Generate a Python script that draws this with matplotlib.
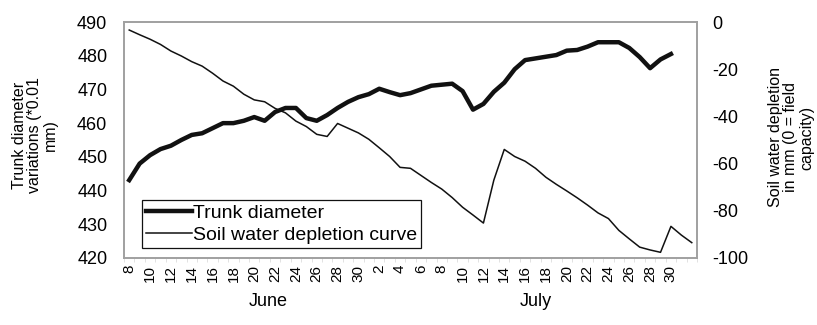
import numpy as np
import matplotlib
matplotlib.use("Agg")
import matplotlib.pyplot as plt

plt.rcParams['font.family'] = ['Liberation Sans', 'DejaVu Sans']
plt.rcParams['axes.unicode_minus'] = False

# categories: one per day, June 8 .. August 1
day_numbers = list(range(8, 31)) + list(range(1, 32)) + [1]
month_names = ['June', 'July']

# trunk diameter variations (*0.01 mm), June 8 .. July 30
trunk = [443.1, 448.0, 450.5, 452.3, 453.3, 455.0, 456.5, 457.0, 458.5, 460.0,
         460.0, 460.7, 461.8, 460.7, 463.3, 464.5, 464.5, 461.5, 460.7, 462.4,
         464.5, 466.3, 467.7, 468.6, 470.2, 469.2, 468.3, 468.9, 470.0, 471.1,
         471.4, 471.7, 469.5, 464.0, 465.7, 469.3, 472.0, 476.0, 478.7, 479.2,
         479.7, 480.2, 481.5, 481.7, 482.7, 484.0, 484.0, 484.0, 482.3, 479.6,
         476.3, 478.9, 480.5]

# soil water depletion in mm, June 8 .. August 1
soil = [-3.4, -5.4, -7.3, -9.5, -12.3, -14.4, -16.8, -18.7, -21.7, -25.0,
        -27.2, -30.6, -33.0, -33.8, -36.6, -38.5, -42.0, -44.3, -47.6, -48.5,
        -43.0, -45.0, -47.0, -49.7, -53.3, -57.0, -61.6, -62.0, -65.0, -68.0,
        -70.8, -74.4, -78.5, -81.8, -85.2, -67.0, -54.0, -57.0, -59.0, -62.0,
        -65.8, -68.8, -71.6, -74.5, -77.6, -80.9, -83.3, -88.3, -91.9, -95.4,
        -96.6, -97.6, -86.6, -90.3, -93.5]

left_ticks = [420, 430, 440, 450, 460, 470, 480, 490]
right_ticks = [-100, -80, -60, -40, -20, 0]

fig = plt.figure(figsize=(8.17, 3.25), dpi=100)
ax = fig.add_axes([0.1518, 0.2062, 0.7013, 0.7261])
ax2 = ax.twinx()

x_trunk = np.arange(len(trunk))
x_soil = np.arange(len(soil))

l1, = ax.plot(x_trunk, trunk, color='#111111', lw=3.2, solid_joinstyle='round',
              label='Trunk diameter', zorder=3)
l2, = ax2.plot(x_soil, soil, color='#111111', lw=1.1, label='Soil water depletion curve')

ax.set_xlim(-0.5, len(day_numbers) - 0.5)
ax.set_ylim(420, 490)
ax2.set_ylim(-100, 0)
ax.set_yticks(left_ticks)
ax2.set_yticks(right_ticks)
ax.tick_params(axis='y', length=0, labelsize=13, pad=12)
ax2.tick_params(axis='y', length=0, labelsize=13, pad=11)

tick_idx = list(range(0, 53, 2))
ax.set_xticks(tick_idx)
ax.set_xticklabels([str(day_numbers[i]) for i in tick_idx], rotation=90, fontsize=11)
ax.set_xticks(np.arange(-0.5, len(day_numbers), 1), minor=True)
ax.tick_params(axis='x', which='major', length=0, pad=5)
ax.tick_params(axis='x', which='minor', length=3, color='#dddddd')

for a in (ax, ax2):
    for s in a.spines.values():
        s.set_color('#a0a0a0')
        s.set_linewidth(1.2)

leg = ax2.legend([l1, l2], [l1.get_label(), l2.get_label()], loc='lower left',
                 bbox_to_anchor=(0.031, 0.042), fontsize=14, frameon=True, fancybox=False,
                 edgecolor='#111111', framealpha=1, handlelength=2.4, handletextpad=0.05,
                 borderpad=0.2, labelspacing=0.25, borderaxespad=0)
leg.get_frame().set_linewidth(0.9)

fig.text(35 / 817, 0.583, 'Trunk diameter\nvariations (*0.01\nmm)', rotation=90,
         ha='center', va='center', multialignment='center', fontsize=11.5, linespacing=1.05)
fig.text(791 / 817, 0.577, 'Soil water depletion\nin mm (0 = field\ncapacity)', rotation=90,
         ha='center', va='center', multialignment='center', fontsize=11.5, linespacing=1.05)

fig.text(268 / 817, 1 - 301 / 325, month_names[0], ha='center', va='center', fontsize=13)
fig.text(536 / 817, 1 - 301 / 325, month_names[1], ha='center', va='center', fontsize=13)

fig.savefig('out.png', dpi=100)
